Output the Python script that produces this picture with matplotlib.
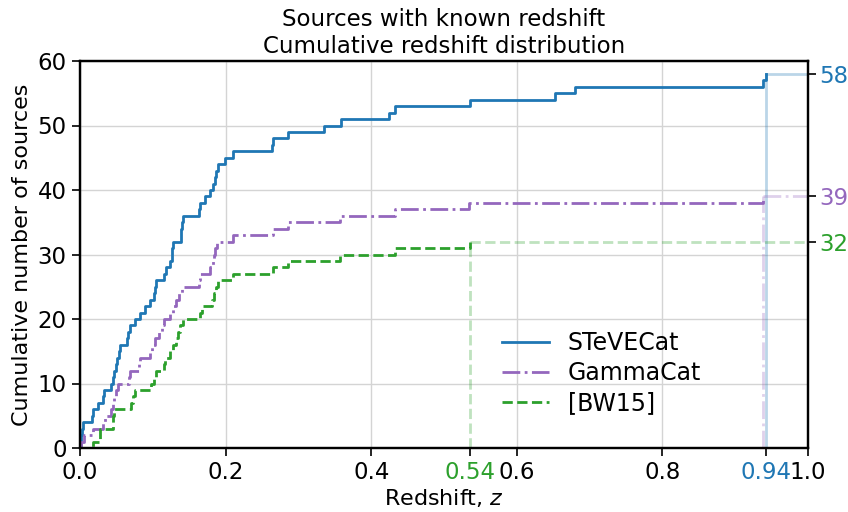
import numpy as np
import matplotlib
matplotlib.use("Agg")
import matplotlib.pyplot as plt

plt.rcParams['font.family'] = ['DejaVu Sans']

# Redshifts of sources (sorted)
steve_z = [0.001, 0.002, 0.003, 0.004,
           0.016, 0.018, 0.025, 0.031, 0.033,
           0.043, 0.045, 0.047, 0.049, 0.051, 0.053, 0.055,
           0.064, 0.066, 0.069, 0.076, 0.082, 0.089, 0.096, 0.101, 0.103, 0.104,
           0.116, 0.118, 0.124, 0.126, 0.127, 0.128,
           0.139, 0.139, 0.140, 0.141,
           0.163, 0.165, 0.172, 0.178, 0.183, 0.185, 0.187, 0.190, 0.199, 0.210,
           0.264, 0.265, 0.286, 0.335, 0.359, 0.424, 0.433, 0.536, 0.652, 0.680,
           0.938, 0.942]
gamma_z = [0.001, 0.005, 0.018, 0.032, 0.035, 0.043, 0.045, 0.047, 0.049, 0.052,
           0.067, 0.068, 0.081, 0.082, 0.096, 0.099, 0.103, 0.108, 0.112, 0.116,
           0.124, 0.128, 0.132, 0.136, 0.140, 0.163, 0.165, 0.178, 0.183, 0.184,
           0.186, 0.188, 0.210, 0.265, 0.286, 0.357, 0.433, 0.535, 0.938]
bw15_z = [0.018, 0.027, 0.028, 0.045, 0.046, 0.047, 0.070, 0.073, 0.076, 0.097,
          0.101, 0.104, 0.115, 0.117, 0.124, 0.128, 0.132, 0.135, 0.138, 0.141,
          0.165, 0.168, 0.181, 0.184, 0.187, 0.190, 0.210, 0.265, 0.286, 0.357,
          0.433, 0.536]

series = [("STeVECat", steve_z, "#1f77b4", "-"),
          ("GammaCat", gamma_z, "#9467bd", "-."),
          ("[BW15]", bw15_z, "#2ca02c", "--")]

fig = plt.figure(figsize=(8.48, 5.12), dpi=100)
ax = fig.add_axes([80/848, 1-448/512, 728/848, 387/512])

for name, zs, col, ls in series:
    zs = np.sort(np.array(zs))
    n = np.arange(1, len(zs) + 1)
    x = np.concatenate([[0.0], zs])
    y = np.concatenate([[0], n])
    ax.step(x, y, where='post', color=col, ls=ls, lw=2, label=name)
    zmax, ntot = zs[-1], len(zs)
    ax.plot([zmax, zmax], [0, ntot], color=col, ls=ls, lw=2, alpha=0.3)
    ax.plot([zmax, 1.0], [ntot, ntot], color=col, ls=ls, lw=2, alpha=0.3)

ax.set_xlim(0, 1.0)
ax.set_ylim(0, 60)
ax.set_xticks([0, 0.2, 0.4, 0.6, 0.8, 1.0])
ax.set_xticklabels(["0.0", "0.2", "0.4", "0.6", "0.8", "1.0"])
ax.set_xticks([0.536, 0.942], minor=True)
ax.set_xticklabels(["0.54", "0.94"], minor=True)
mlabels = ax.xaxis.get_minorticklabels()
mlabels[0].set_color("#2ca02c")
mlabels[1].set_color("#1f77b4")
ax.set_yticks([0, 10, 20, 30, 40, 50, 60])
ax.tick_params(which='both', labelsize=16.5, length=6, width=1.2)
ax.grid(True, which='major', color='#d4d4d4', lw=1)
for s in ax.spines.values():
    s.set_linewidth(1.6)

ax.set_xlabel("Redshift, $z$", fontsize=16, labelpad=2)
ax.set_ylabel("Cumulative number of sources", fontsize=16)
ax.set_title("Sources with known redshift\nCumulative redshift distribution", fontsize=16.5)

ax2 = ax.twinx()
ax2.set_ylim(0, 60)
ax2.set_yticks([58, 39, 32])
ax2.set_yticklabels(["58", "39", "32"])
for lab, col in zip(ax2.get_yticklabels(), ["#1f77b4", "#9467bd", "#2ca02c"]):
    lab.set_color(col)
ax2.tick_params(labelsize=16.5, length=6, width=1.2, pad=2)
for s in ax2.spines.values():
    s.set_linewidth(1.6)

ax.legend(loc='lower left', bbox_to_anchor=(0.55, 0.03), frameon=False, fontsize=17,
          handlelength=2.0, labelspacing=0.25)

fig.savefig("out.png", dpi=100)
